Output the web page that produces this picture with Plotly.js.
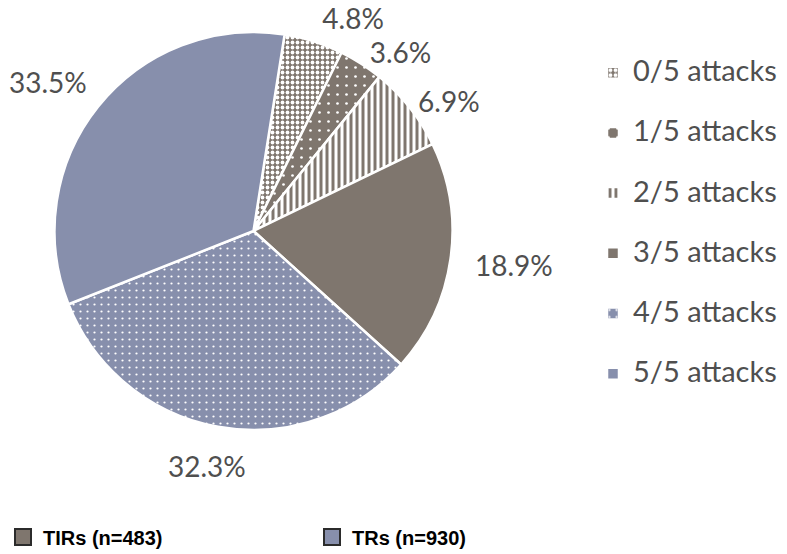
<!DOCTYPE html>
<html>
<head>
<meta charset="utf-8">
<script src="https://cdn.plot.ly/plotly-3.0.1.min.js"></script>
<style>
  html, body { margin: 0; padding: 0; background: #ffffff; }
  #chart { width: 787px; height: 554px; }
  /* the reference has no leader lines on the outside labels */
  #chart path.textline { display: none !important; }
</style>
</head>
<body>
<div id="chart"></div>
<script>
// Share of items by number of attacks (percent)
const categories = ['0/5 attacks', '1/5 attacks', '2/5 attacks', '3/5 attacks', '4/5 attacks', '5/5 attacks'];
const shares = [4.8, 3.6, 6.9, 18.9, 32.3, 33.5];

// Group key shown under the pie
const groupNames = ['TIRs (n=483)', 'TRs (n=930)'];

const BROWN = '#7f766e';
const SLATE = '#878fac';
const TEXT = '#4f4f4f';
const FONT = 'Lato, "Open Sans", sans-serif';
const LABEL_SIZE = 28;
const ROTATION = 9;

const W = 787, H = 554;
const M = { l: 0, r: 0, t: 32, b: 124 };
const plotW = W - M.l - M.r;
const plotH = H - M.t - M.b;

// fill per slice: [bg, fg, shape, size, solidity]
const fills = [
  [BROWN, '#ffffff', '.', 5, 0.45],
  [BROWN, '#ffffff', '.', 9, 0.07],
  ['#ffffff', BROWN, '|', 6, 0.5],
  [BROWN, BROWN, '', 8, 0.3],
  [SLATE, '#ffffff', '.', 7, 0.08],
  [SLATE, SLATE, '', 8, 0.3]
];

// small slices: plotly outside labels; big slices: labels set further out, like the original
const bigSlice = shares.map(v => v > 15);

const dom = { x: [54.5 / plotW, 452.5 / plotW], y: [0, 1] };

const pie = {
  type: 'pie',
  // legend text gets a blank second line so the entries spread out
  labels: categories.map(c => `<span style="font-size:29px">${c}</span><br>\u00a0`),
  values: shares,
  sort: false,
  direction: 'clockwise',
  rotation: ROTATION,
  domain: dom,
  marker: {
    colors: fills.map(f => f[0]),
    line: { color: '#ffffff', width: 2.5 },
    pattern: {
      shape: fills.map(f => f[2]),
      bgcolor: fills.map(f => f[0]),
      fgcolor: fills.map(f => f[1]),
      size: fills.map(f => f[3]),
      solidity: fills.map(f => f[4]),
      fillmode: 'replace'
    }
  },
  texttemplate: '%{value:.1f}%',
  textposition: bigSlice.map(b => (b ? 'none' : 'outside')),
  outsidetextfont: { family: FONT, size: LABEL_SIZE, color: TEXT },
  hoverinfo: 'skip',
  legend: 'legend'
};

// label boxes for the big slices: touch a ring just outside the pie at the slice mid-angle
const total = shares.reduce((a, b) => a + b, 0);
const radius = Math.min((dom.x[1] - dom.x[0]) * plotW, plotH) / 2;
const ring = radius + 26;
let acc = 0;
const labelNotes = [];
shares.forEach((v, i) => {
  const mid = (ROTATION + (acc + v / 2) / total * 360) * Math.PI / 180;
  acc += v;
  if (!bigSlice[i]) return;
  const text = `${v.toFixed(1)}%`;
  const hw = text.length * 0.55 * LABEL_SIZE / 2;
  const hh = LABEL_SIZE / 2;
  const dx = (ring * Math.sin(mid) + hw * Math.sin(mid)) / plotW;
  const dy = (ring * Math.cos(mid) + hh * Math.cos(mid)) / plotH;
  labelNotes.push({
    xref: 'paper', yref: 'paper',
    x: (dom.x[0] + dom.x[1]) / 2 + dx,
    y: 0.5 + dy,
    xanchor: 'center', yanchor: 'middle',
    text,
    showarrow: false,
    font: { family: FONT, size: LABEL_SIZE, color: TEXT }
  });
});

const keyTraces = groupNames.map((name, i) => ({
  type: 'scatter',
  mode: 'markers',
  x: [null],
  y: [null],
  name: `<b>${name}</b>`,
  marker: { symbol: 'square', size: 16, color: i === 0 ? BROWN : SLATE, line: { color: '#2b2b2b', width: 2 } },
  legend: 'legend2',
  hoverinfo: 'skip'
}));

const layout = {
  width: W,
  height: H,
  paper_bgcolor: '#ffffff',
  plot_bgcolor: '#ffffff',
  margin: { ...M, autoexpand: false },
  font: { family: FONT, color: TEXT },
  xaxis: { visible: false },
  yaxis: { visible: false },
  showlegend: true,
  annotations: labelNotes,
  legend: {
    x: 593 / plotW,
    xanchor: 'left',
    y: 0.95,
    yanchor: 'top',
    valign: 'top',
    font: { family: FONT, size: 22, color: TEXT },
    bgcolor: 'rgba(0,0,0,0)'
  },
  legend2: {
    orientation: 'h',
    x: 3 / plotW,
    xanchor: 'left',
    y: -0.269,
    yanchor: 'middle',
    entrywidth: 264,
    entrywidthmode: 'pixels',
    font: { family: '"Liberation Sans Narrow", "Liberation Sans", Arial, sans-serif', size: 20, color: '#000000' },
    bgcolor: 'rgba(0,0,0,0)'
  }
};

Plotly.newPlot('chart', [pie, ...keyTraces], layout, { displayModeBar: false, staticPlot: true });
</script>
</body>
</html>
